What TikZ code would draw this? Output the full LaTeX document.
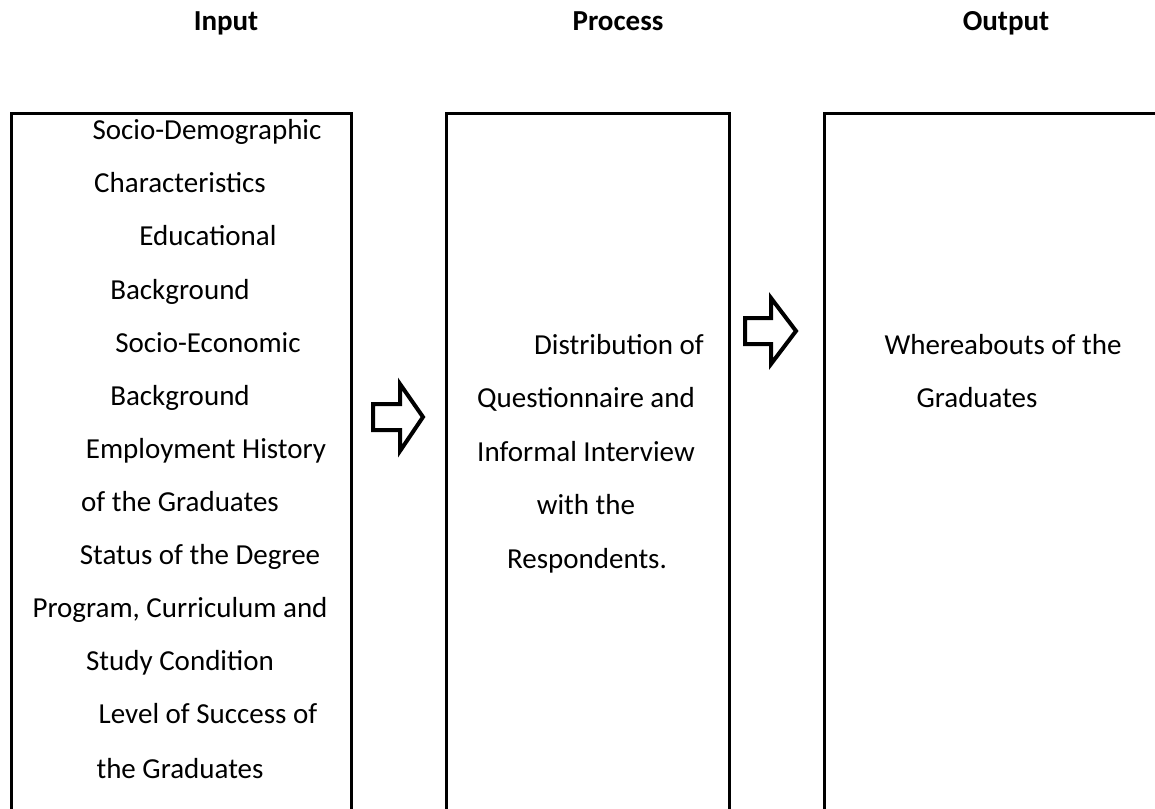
\documentclass[tikz,border=0pt]{standalone}
\usepackage{fontspec}
\setmainfont{Carlito}
\begin{document}
\begin{tikzpicture}[x=1pt,y=-1pt,
  box/.style={draw=black,line width=2.8pt,inner sep=0pt,anchor=north west},
  txt/.style={anchor=mid,inner sep=0pt,font=\fontsize{29}{35}\selectfont},
  hdr/.style={anchor=mid,inner sep=0pt,font=\fontsize{29}{35}\selectfont\bfseries},
  blockarrow/.style={draw=black,line width=4pt,line join=miter,fill=white}]
\useasboundingbox (0,0) rectangle (1155,808);
\clip (0,0) rectangle (1155,808);
% headers
\node[hdr] (hin)  at (226,28) {Input};
\node[hdr] (hpr)  at (618,28) {Process};
\node[hdr] (hout) at (1006,28) {Output};
% boxes
\node[box,minimum width=340pt,minimum height=740pt] (bin)  at (10,112) {};
\node[box,minimum width=283pt,minimum height=740pt] (bpr)  at (445,112) {};
\node[box,minimum width=360pt,minimum height=740pt] (bout) at (823,112) {};
% input texts
\node[txt] (i1)  at (207,137) {Socio-Demographic};
\node[txt] (i2)  at (180,190) {Characteristics};
\node[txt] (i3)  at (208,243) {Educational};
\node[txt] (i4)  at (180,297) {Background};
\node[txt] (i5)  at (208,350) {Socio-Economic};
\node[txt] (i6)  at (180,403) {Background};
\node[txt] (i7)  at (206,456) {Employment History};
\node[txt] (i8)  at (180,509) {of the Graduates};
\node[txt] (i9)  at (200,562) {Status of the Degree};
\node[txt] (i10) at (180,615) {Program, Curriculum and};
\node[txt] (i11) at (180,668) {Study Condition};
\node[txt] (i12) at (208,721) {Level of Success of};
\node[txt] (i13) at (180,776) {the Graduates};
% process texts
\node[txt] (p1) at (619,352) {Distribution of};
\node[txt] (p2) at (586,405) {Questionnaire and};
\node[txt] (p3) at (586,459) {Informal Interview};
\node[txt] (p4) at (586,512) {with the};
\node[txt] (p5) at (587,566) {Respondents.};
% output texts
\node[txt] (o1) at (1003,352) {Whereabouts of the};
\node[txt] (o2) at (977,405) {Graduates};
% block arrows
\draw[blockarrow] (373,404) -- (400,404) -- (400,384) -- (423,417) -- (400,451) -- (400,430) -- (373,430) -- cycle;
\draw[blockarrow] (745,318) -- (771,318) -- (771,298) -- (796,331) -- (771,364) -- (771,344) -- (745,344) -- cycle;
\end{tikzpicture}
\end{document}
